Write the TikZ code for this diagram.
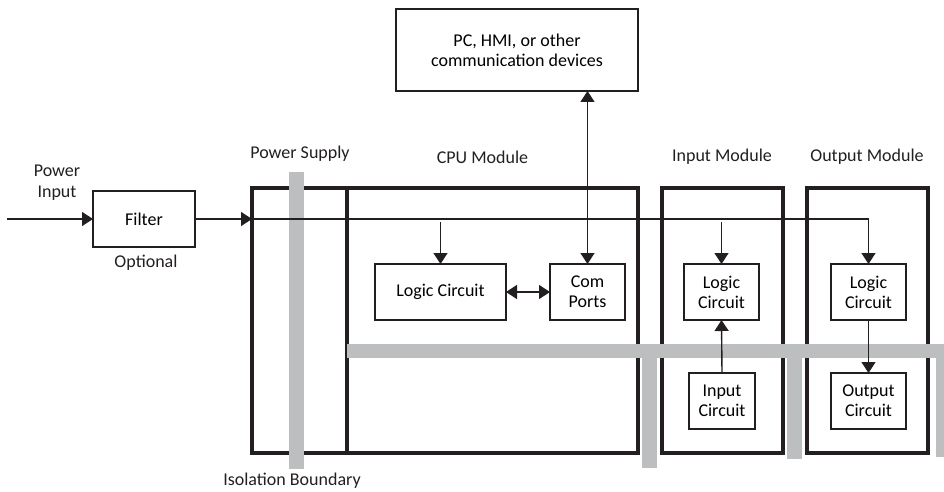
\documentclass[tikz,border=0pt]{standalone}
\usepackage{fontspec}
\setmainfont{Carlito}
\usetikzlibrary{arrows.meta}

\definecolor{bargray}{RGB}{188,190,192}
\definecolor{ink}{RGB}{35,31,32}

\tikzset{
  module/.style={draw=ink, line width=3.2pt, inner sep=0pt, outer sep=0pt},
  block/.style={draw=ink, line width=1.5pt, inner sep=0pt, outer sep=0pt,
    align=center, font=\fontsize{18}{20}\selectfont},
  caption/.style={align=center, text=ink, font=\fontsize{18}{21}\selectfont},
  bar/.style={fill=bargray},
  wire/.style={draw=ink, line width=1.4pt},
  arr/.style={wire, -{Triangle[length=11pt, width=14pt]}},
  darr/.style={wire, {Triangle[length=11pt, width=14pt]}-{Triangle[length=11pt, width=14pt]}},
}

\begin{document}
\begin{tikzpicture}[x=1pt, y=-1pt]
    \useasboundingbox (0,0) rectangle (944,492);

    % modules
    \node[module, minimum width=95, minimum height=265] (ps) at (299.5,320.5) {};
    \node[module, minimum width=291, minimum height=265] (cpu) at (492.5,320.5) {};
    \node[module, minimum width=121, minimum height=265] (inmod) at (722.5,320.5) {};
    \node[module, minimum width=121, minimum height=265] (outmod) at (867.5,320.5) {};

    % isolation boundary
    \fill[bar] (289,172) rectangle (304,469);
    \fill[bar] (347,344) rectangle (944,358);
    \fill[bar] (642,358) rectangle (657,468);
    \fill[bar] (787,358) rectangle (802,459);
    \fill[bar] (936,358) rectangle (944,457);

    % blocks
    \node[block, minimum width=102, minimum height=56] (filter) at (144,219) {Filter};
    \node[block, minimum width=242, minimum height=82] (pc) at (517,50) {PC, HMI, or other\\communication devices};
    \node[block, minimum width=131, minimum height=56] (cpulogic) at (440.5,292) {Logic Circuit};
    \node[block, minimum width=75, minimum height=56] (com) at (587.5,292) {Com\\Ports};
    \node[block, minimum width=75, minimum height=56] (inlogic) at (721.5,292) {Logic\\Circuit};
    \node[block, minimum width=66, minimum height=56] (incirc) at (722,401) {Input\\Circuit};
    \node[block, minimum width=75, minimum height=56] (outlogic) at (868.5,292) {Logic\\Circuit};
    \node[block, minimum width=75, minimum height=56] (outcirc) at (868.5,401) {Output\\Circuit};

    % captions
    \node[caption] (pwrin) at (57,183) {Power\\Input};
    \node[caption] (opt) at (146,263) {Optional};
    \node[caption] (pslabel) at (300,154) {Power Supply};
    \node[caption] (cpulabel) at (482.5,157) {CPU Module};
    \node[caption] (inlabel) at (722,157) {Input Module};
    \node[caption] (outlabel) at (867,157) {Output Module};
    \node[caption] (isolabel) at (292,481) {Isolation Boundary};

    % connections
    \coordinate (src) at (7,219);
    \coordinate (cputap) at (cpulogic.north |- 0,222);
    \coordinate (intap) at (inlogic.north |- 0,222);

    \draw[arr] (src) -- (filter.west);
    \draw[arr] (filter.east) -- (filter.east -| ps.west);
    \draw[arr] (filter.east -| ps.west) -- (filter.east -| outlogic.north) -- (outlogic.north);
    \draw[arr] (cputap) -- (cpulogic.north);
    \draw[arr] (intap) -- (inlogic.north);
    \draw[darr] (cpulogic.east) -- (com.west);
    \draw[darr] (pc.south -| com.north) -- (com.north);
    \draw[arr] (incirc.north) -- (inlogic.south);
    \draw[arr] (outlogic.south) -- (outcirc.north);
\end{tikzpicture}
\end{document}
